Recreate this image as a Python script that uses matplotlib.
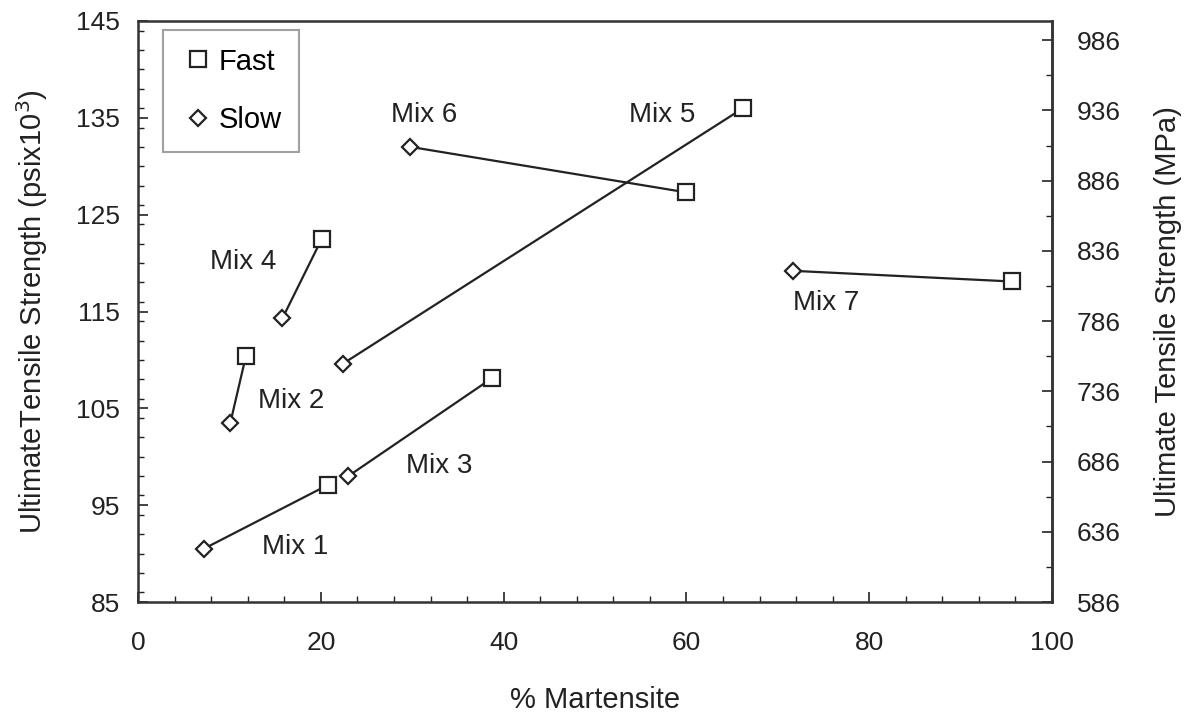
import numpy as np
import matplotlib
matplotlib.use('Agg')
import matplotlib.pyplot as plt
from matplotlib.ticker import MultipleLocator, FixedLocator, FuncFormatter

plt.rcParams['font.family'] = ['Liberation Sans', 'DejaVu Sans']

# Data: (slow, fast) pairs per mix
mixes = ['Mix 1', 'Mix 2', 'Mix 3', 'Mix 4', 'Mix 5', 'Mix 6', 'Mix 7']
slow_x = [7.2, 10.1, 23.0, 15.8, 22.4, 29.8, 71.7]
slow_y = [90.5, 103.5, 98.0, 114.3, 109.6, 132.0, 119.2]
fast_x = [20.8, 11.8, 38.7, 20.1, 66.2, 60.0, 95.6]
fast_y = [97.1, 110.4, 108.1, 122.5, 136.0, 127.3, 118.1]
label_x = [17.2, 16.8, 33.0, 11.5, 57.3, 31.3, 75.3]
label_y = [90.7, 105.8, 99.0, 120.1, 135.3, 135.3, 115.9]

KSI_TO_MPA = 6.895
YMIN, YMAX = 85, 145

fig = plt.figure(figsize=(11.92, 7.19), dpi=100)
ax = fig.add_axes([0.1158, 0.1627, 0.7668, 0.8081])

for sx, sy, fx, fy in zip(slow_x, slow_y, fast_x, fast_y):
    ax.plot([sx, fx], [sy, fy], color='#222222', lw=1.6, zorder=2)

ax.plot(fast_x, fast_y, ls='none', marker='s', ms=11, mfc='white',
        mec='#222222', mew=1.6, label='Fast', zorder=3)
ax.plot(slow_x, slow_y, ls='none', marker='D', ms=8.5, mfc='white',
        mec='#222222', mew=1.6, label='Slow', zorder=3)

for name, lx, ly in zip(mixes, label_x, label_y):
    ax.text(lx, ly, name, fontsize=20, ha='center', va='center', color='#222222')

ax.set_xlim(0, 100)
ax.set_ylim(YMIN, YMAX)
ax.xaxis.set_major_locator(MultipleLocator(20))
ax.xaxis.set_minor_locator(MultipleLocator(4))
ax.yaxis.set_major_locator(MultipleLocator(10))
ax.yaxis.set_minor_locator(MultipleLocator(2))
ax.set_yticks([85, 95, 105, 115, 125, 135, 145])
ax.tick_params(which='both', direction='in', top=False, right=False,
               labelsize=19, colors='#222222')
ax.tick_params(which='major', length=7, width=1.2)
ax.tick_params(which='minor', length=4, width=1.0)
ax.tick_params(axis='x', which='major', pad=21)
ax.tick_params(axis='y', which='major', pad=13)
for s in ax.spines.values():
    s.set_linewidth(1.8)
    s.set_color('#333333')

ax.set_xlabel('% Martensite', fontsize=21, labelpad=22, color='#222222')
ax.set_ylabel('UltimateTensile Strength (psix10$^3$)', fontsize=21,
              labelpad=19, color='#222222')

# right axis in MPa, ticks every 50 starting from the bottom of the scale
mpa_lo = YMIN * KSI_TO_MPA
sec = ax.secondary_yaxis('right', functions=(lambda v: v * KSI_TO_MPA,
                                             lambda v: v / KSI_TO_MPA))
sec.yaxis.set_major_locator(FixedLocator(mpa_lo + 50 * np.arange(9)))
sec.yaxis.set_minor_locator(FixedLocator(mpa_lo + 25 + 50 * np.arange(8)))
sec.yaxis.set_major_formatter(FuncFormatter(lambda v, p: f'{v:.0f}'))
sec.tick_params(which='both', direction='in', labelsize=19, colors='#222222')
sec.tick_params(which='major', length=7, width=1.2, pad=18)
sec.tick_params(which='minor', length=4, width=1.0)
sec.spines['right'].set_linewidth(1.8)
sec.spines['right'].set_color('#333333')
sec.set_ylabel('Ultimate Tensile Strength (MPa)', fontsize=21, labelpad=24,
               color='#222222')

leg = ax.legend(loc='upper left', bbox_to_anchor=(0.0274, 0.9845), fontsize=21,
                frameon=True, fancybox=False, handlelength=1.2,
                handletextpad=0.1, labelspacing=1.05, borderpad=0.6,
                borderaxespad=0)
leg.get_frame().set_edgecolor('#888888')
leg.get_frame().set_linewidth(1.5)

fig.savefig('out.png', dpi=100)
